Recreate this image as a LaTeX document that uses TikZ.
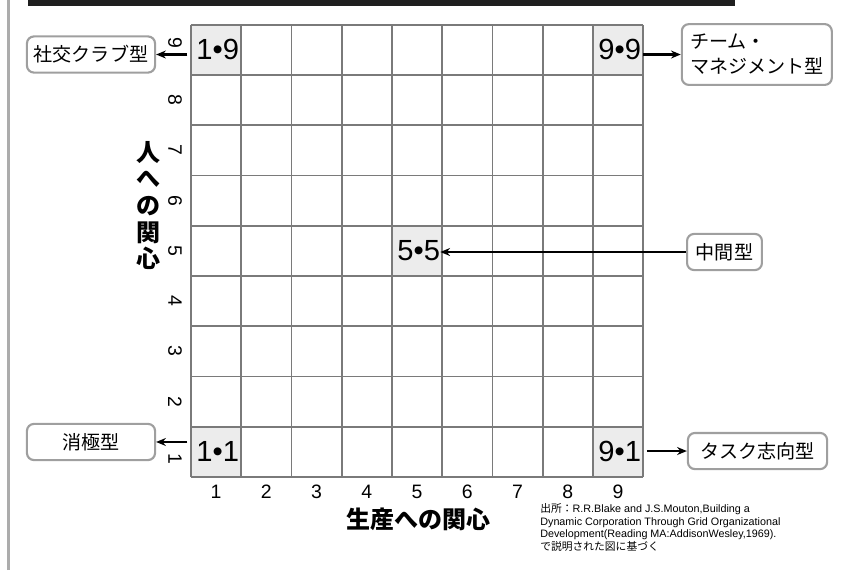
\documentclass[tikz,border=0pt]{standalone}
\usepackage{fontspec}
\setmainfont{Liberation Sans}
\newfontfamily\jp{Noto Sans CJK JP}
\usetikzlibrary{arrows.meta,positioning}
\tikzset{
  cellline/.style={black!52, line width=0.9pt},
  typebox/.style={draw=gray!75, line width=1.2pt, rounded corners=4pt, fill=white,
    font=\jp\fontsize{10.8}{14.2}\selectfont, inner sep=2pt, minimum height=0.72cm},
  typearrow/.style={-{Stealth[length=5.5pt,width=4.5pt]}, line width=1.5pt},
  celllbl/.style={anchor=west, inner sep=0pt, font=\fontsize{16.5}{16.5}\selectfont},
  axisnum/.style={font=\fontsize{11}{11}\selectfont, inner sep=0pt}
}
\begin{document}
\begin{tikzpicture}[>=Stealth]
  \useasboundingbox (-3.801,-1.851) rectangle (13.075,9.493);
  %% Header bar and side rule
  \fill[black!88] (-3.244,9.373) rectangle (10.826,9.493);
  \draw[gray!65, line width=1.5pt] (-3.628,-1.851) -- (-3.628,9.493);

  %% Shaded cells: column/row
  \foreach \cx/\cy in {1/9, 9/9, 5/5, 1/1, 9/1}{
    \fill[gray!15] (\cx-1,\cy-1) rectangle (\cx,\cy);
  }
  %% Grid 9x9
  \draw[cellline] (0,0) grid (9,9);
  \coordinate (gridL) at (0,0);
  \coordinate (gridR) at (9,0);

  %% Axis numbers (1 and 9 moved off the arrows)
  \foreach \n/\dy in {1/-0.13,2/0,3/0,4/0,5/0,6/0,7/0,8/0,9/0.13}{
    \node[axisnum] (x\n) at (\n-0.5,-0.30) {\n};
    \node[axisnum, rotate=-90] (y\n) at (-0.318,\n-0.5+\dy) {\n};
  }

  %% Cell labels
  \foreach \cx/\cy/\lbl in {1/9/1•9, 9/9/9•9, 5/5/5•5, 1/1/1•1, 9/1/9•1}{
    \node[celllbl] (c\cx\cy) at (\cx-0.9,\cy-0.5) {\lbl};
  }

  %% Style boxes
  \node[typebox, minimum width=2.55cm] (social) at (-1.99,8.408) {社交クラブ型};
  \node[typebox, minimum width=2.985cm, minimum height=1.21cm, align=left] (team)
    at (11.26,8.408) {チーム・\\マネジメント型};
  \node[typebox, minimum width=1.49cm] (middle) at (10.617,4.478) {中間型};
  \node[typebox, minimum width=2.55cm] (passive) at (-1.99,0.697) {消極型};
  \node[typebox, minimum width=2.77cm] (task) at (11.274,0.517) {タスク志向型};

  %% Arrows
  \draw[typearrow] ([xshift=-2pt]social.east -| gridL) -- (social.east);
  \draw[typearrow] (team.west -| gridR) -- (team.west);
  \draw[typearrow] (middle.west) -- (middle.west -| c55.east);
  \draw[typearrow] ([xshift=-2pt]passive.east -| gridL) -- (passive.east);
  \draw[typearrow] ([xshift=2pt]task.west -| gridR) -- (task.west);

  %% Axis titles
  \node[font=\jp\bfseries\fontsize{13.6}{15.1}\selectfont, align=center, inner sep=0pt]
    (ytitle) at (-0.846,5.40) {人\\へ\\の\\関\\心};
  \node[font=\jp\bfseries\fontsize{13.6}{13.6}\selectfont, inner sep=0pt]
    (xtitle) at (4.52,-0.84) {生産への関心};

  %% Source
  \node[anchor=north west, align=left, inner sep=0pt, font=\fontsize{6.1}{7.2}\selectfont]
    (source) at (6.945,-0.517) {{\jp 出所：}R.R.Blake and J.S.Mouton,Building a\\
Dynamic Corporation Through Grid Organizational\\
Development(Reading MA:AddisonWesley,1969).\\
{\jp で説明された図に基づく}};
\end{tikzpicture}
\end{document}
